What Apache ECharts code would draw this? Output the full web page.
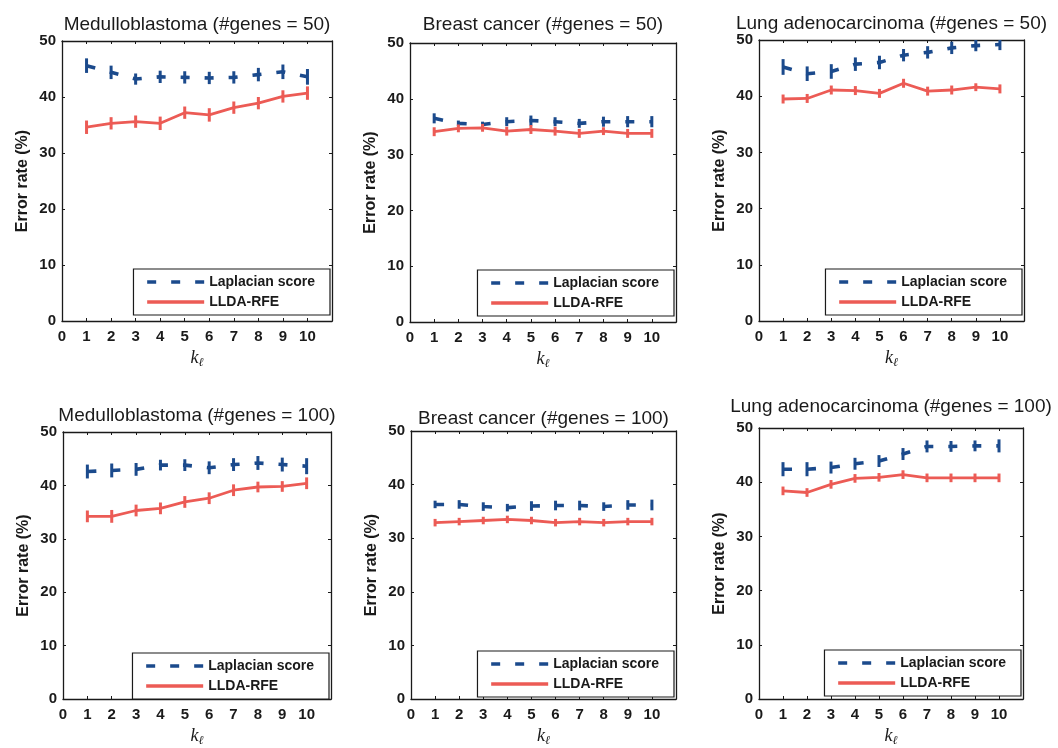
<!DOCTYPE html>
<html><head><meta charset="utf-8">
<script src="https://cdn.jsdelivr.net/npm/echarts@6/dist/echarts.min.js"></script>
<style>html,body{margin:0;padding:0;background:#fff}#c{width:1058px;height:748px}</style>
</head><body><div id="c"></div>
<script>
// ---------- data ----------
const kValues = [1, 2, 3, 4, 5, 6, 7, 8, 9, 10];
const seriesNames = ['Laplacian score', 'LLDA-RFE'];
const panelTitles = [
  'Medulloblastoma (#genes = 50)', 'Breast cancer (#genes = 50)', 'Lung adenocarcinoma (#genes = 50)',
  'Medulloblastoma (#genes = 100)', 'Breast cancer (#genes = 100)', 'Lung adenocarcinoma (#genes = 100)'
];
const yAxisName = 'Error rate (%)';

const lapMed50     = [45.6, 44.4, 43.2, 43.6, 43.5, 43.4, 43.5, 44.0, 44.5, 43.6];
const lapErrMed50  = [1.3, 1.2, 1.0, 1.1, 1.1, 1.1, 1.1, 1.2, 1.3, 1.4];
const lldaMed50    = [34.6, 35.3, 35.6, 35.3, 37.2, 36.8, 38.1, 38.9, 40.1, 40.7];
const lldaErrMed50 = [1.2, 1.1, 1.1, 1.2, 1.1, 1.2, 1.1, 1.1, 1.1, 1.2];

const lapBre50     = [36.5, 35.6, 35.4, 35.9, 36.1, 35.9, 35.6, 35.9, 35.9, 35.9];
const lapErrBre50  = [0.9, 0.5, 0.5, 0.8, 0.9, 0.8, 0.8, 0.9, 1.0, 1.0];
const lldaBre50    = [34.1, 34.7, 34.8, 34.2, 34.5, 34.2, 33.8, 34.2, 33.8, 33.8];
const lldaErrBre50 = [0.8, 0.7, 0.7, 0.8, 0.8, 0.8, 0.8, 0.7, 0.8, 0.8];

const lapLung50     = [45.2, 44.0, 44.4, 45.7, 46.0, 47.3, 47.8, 48.6, 49.0, 49.2];
const lapErrLung50  = [1.4, 1.3, 1.3, 1.2, 1.2, 1.1, 1.1, 1.1, 1.0, 1.0];
const lldaLung50    = [39.5, 39.6, 41.1, 41.0, 40.5, 42.3, 40.9, 41.1, 41.6, 41.3];
const lldaErrLung50 = [0.8, 0.8, 0.8, 0.8, 0.8, 0.8, 0.8, 0.8, 0.7, 0.8];

const lapMed100     = [42.6, 42.8, 43.0, 43.8, 43.8, 43.3, 43.9, 44.2, 43.9, 43.6];
const lapErrMed100  = [1.3, 1.3, 1.2, 1.0, 1.1, 1.2, 1.2, 1.3, 1.3, 1.5];
const lldaMed100    = [34.2, 34.2, 35.3, 35.7, 36.9, 37.6, 39.1, 39.7, 39.8, 40.4];
const lldaErrMed100 = [1.1, 1.2, 1.1, 1.1, 1.1, 1.1, 1.1, 1.0, 1.0, 1.1];

const lapBre100     = [36.3, 36.3, 35.9, 35.7, 36.0, 36.1, 36.1, 35.9, 36.2, 36.2];
const lapErrBre100  = [0.7, 0.8, 0.8, 0.7, 0.9, 0.9, 0.9, 0.8, 0.9, 1.0];
const lldaBre100    = [32.9, 33.1, 33.3, 33.5, 33.3, 32.9, 33.1, 32.9, 33.1, 33.1];
const lldaErrBre100 = [0.7, 0.7, 0.7, 0.7, 0.7, 0.7, 0.7, 0.7, 0.7, 0.7];

const lapLung100     = [42.4, 42.4, 42.7, 43.4, 43.9, 45.2, 46.6, 46.6, 46.7, 46.7];
const lapErrLung100  = [1.3, 1.3, 1.1, 1.1, 1.1, 1.1, 1.1, 1.0, 1.0, 1.2];
const lldaLung100    = [38.4, 38.1, 39.6, 40.7, 40.9, 41.4, 40.8, 40.8, 40.8, 40.8];
const lldaErrLung100 = [0.8, 0.8, 0.8, 0.8, 0.8, 0.8, 0.8, 0.8, 0.8, 0.8];

const panelData = [
  [lapMed50, lapErrMed50, lldaMed50, lldaErrMed50],
  [lapBre50, lapErrBre50, lldaBre50, lldaErrBre50],
  [lapLung50, lapErrLung50, lldaLung50, lldaErrLung50],
  [lapMed100, lapErrMed100, lldaMed100, lldaErrMed100],
  [lapBre100, lapErrBre100, lldaBre100, lldaErrBre100],
  [lapLung100, lapErrLung100, lldaLung100, lldaErrLung100]
];

// ---------- layout / style ----------
const W = 1058, H = 748;
const grids = [
  {left: 62, top: 41, width: 270, height: 280},
  {left: 410, top: 43, width: 266, height: 279},
  {left: 759, top: 40, width: 265, height: 281},
  {left: 63, top: 432, width: 268, height: 273},
  {left: 411, top: 431, width: 265, height: 272},
  {left: 759, top: 428, width: 264, height: 274}
];
const titleCenterY = [23, 23, 22, 414, 417, 405];
const BLUE = '#1b4a8c', RED = '#ec5b55', INK = '#1a1a1a';
const FONT = '"Liberation Sans", Arial, Helvetica, sans-serif';

function errRender(params, api) {
  const x = api.value(0), y = api.value(1), e = api.value(2);
  const p1 = api.coord([x, y - e]);
  const p2 = api.coord([x, y + e]);
  return {type: 'line', shape: {x1: p1[0], y1: p1[1], x2: p2[0], y2: p2[1]},
          style: {stroke: api.visual('color'), lineWidth: 3}};
}

const option = {
  backgroundColor: '#fff', animation: false,
  textStyle: {fontFamily: FONT},
  title: [], grid: [], xAxis: [], yAxis: [], legend: [], series: []
};

grids.forEach((g, i) => {
  option.grid.push({left: g.left, top: g.top, width: g.width, height: g.height,
    show: false, containLabel: false});
  option.title.push({text: panelTitles[i], left: g.left + g.width / 2, top: titleCenterY[i] - 8,
    padding: 0, textAlign: 'center',
    textStyle: {fontFamily: FONT, fontSize: 19, fontWeight: 'normal', color: INK}});
  const tick = {show: true, inside: true, length: 3, lineStyle: {color: INK, width: 1}};
  const line = {show: true, onZero: false, lineStyle: {color: INK, width: 1.3}};
  option.xAxis.push({gridIndex: i, type: 'value', min: 0, max: 11, interval: 1, position: 'bottom',
    axisLine: line, axisTick: tick, splitLine: {show: false},
    axisLabel: {margin: 8, fontSize: 15, fontWeight: 'bold', color: INK, fontFamily: FONT,
      formatter: v => (v <= 10 ? String(v) : '')},
    name: '{k|k}{l|ℓ}', nameLocation: 'middle', nameGap: 28,
    nameTextStyle: {rich: {
      k: {fontFamily: '"Liberation Serif", "DejaVu Serif", serif', fontStyle: 'italic', fontSize: 18, color: INK, verticalAlign: 'top', lineHeight: 20},
      l: {fontFamily: '"DejaVu Serif", serif', fontStyle: 'italic', fontSize: 12, color: INK, verticalAlign: 'bottom', lineHeight: 20, padding: [8, 0, 0, 0]}
    }}});
  option.xAxis.push({gridIndex: i, type: 'value', min: 0, max: 11, interval: 1, position: 'top',
    axisLine: line, axisTick: tick, splitLine: {show: false}, axisLabel: {show: false}});
  option.yAxis.push({gridIndex: i, type: 'value', min: 0, max: 50, interval: 10, position: 'left',
    axisLine: line, axisTick: tick, splitLine: {show: false},
    axisLabel: {margin: 6, fontSize: 15, fontWeight: 'bold', color: INK, fontFamily: FONT},
    name: yAxisName, nameLocation: 'middle', nameRotate: 90, nameGap: 31,
    nameTextStyle: {fontFamily: FONT, fontSize: 16, fontWeight: 'bold', color: INK}});
  option.yAxis.push({gridIndex: i, type: 'value', min: 0, max: 50, interval: 10, position: 'right',
    axisLine: line, axisTick: tick, splitLine: {show: false}, axisLabel: {show: false}});

  const [lap, lapErr, llda, lldaErr] = panelData[i];
  const xi = 2 * i, yi = 2 * i;
  option.series.push({name: seriesNames[0], type: 'line', xAxisIndex: xi, yAxisIndex: yi,
    data: kValues.map((k, j) => [k, lap[j]]), symbol: 'none', showSymbol: false, clip: true, z: 3,
    itemStyle: {color: BLUE}, lineStyle: {color: BLUE, width: 3.6, type: [9, 15]}});
  option.series.push({name: seriesNames[1], type: 'line', xAxisIndex: xi, yAxisIndex: yi,
    data: kValues.map((k, j) => [k, llda[j]]), symbol: 'none', showSymbol: false, clip: true, z: 3,
    itemStyle: {color: RED}, lineStyle: {color: RED, width: 2.8, type: 'solid'}});
  option.series.push({name: 'lapErr' + i, type: 'custom', xAxisIndex: xi, yAxisIndex: yi, clip: true, z: 4,
    itemStyle: {color: BLUE}, renderItem: errRender,
    data: kValues.map((k, j) => [k, lap[j], lapErr[j]])});
  option.series.push({name: 'lldaErr' + i, type: 'custom', xAxisIndex: xi, yAxisIndex: yi, clip: true, z: 4,
    itemStyle: {color: RED}, renderItem: errRender,
    data: kValues.map((k, j) => [k, llda[j], lldaErr[j]])});

  option.legend.push({orient: 'vertical', data: seriesNames, selectedMode: false,
    right: W - (g.left + g.width - 2), bottom: H - (g.top + g.height - 6),
    itemWidth: 57, itemHeight: 14, itemGap: 6, padding: [6, 15, 6, 12],
    itemStyle: {opacity: 0}, lineStyle: {width: 3.4},
    borderColor: INK, borderWidth: 1.2, backgroundColor: '#fff', borderRadius: 0,
    textStyle: {fontFamily: FONT, fontSize: 14, fontWeight: 'bold', color: INK}});
});

const chart = echarts.init(document.getElementById('c'), null, {renderer: 'canvas'});
chart.setOption(option);
</script>
</body></html>
